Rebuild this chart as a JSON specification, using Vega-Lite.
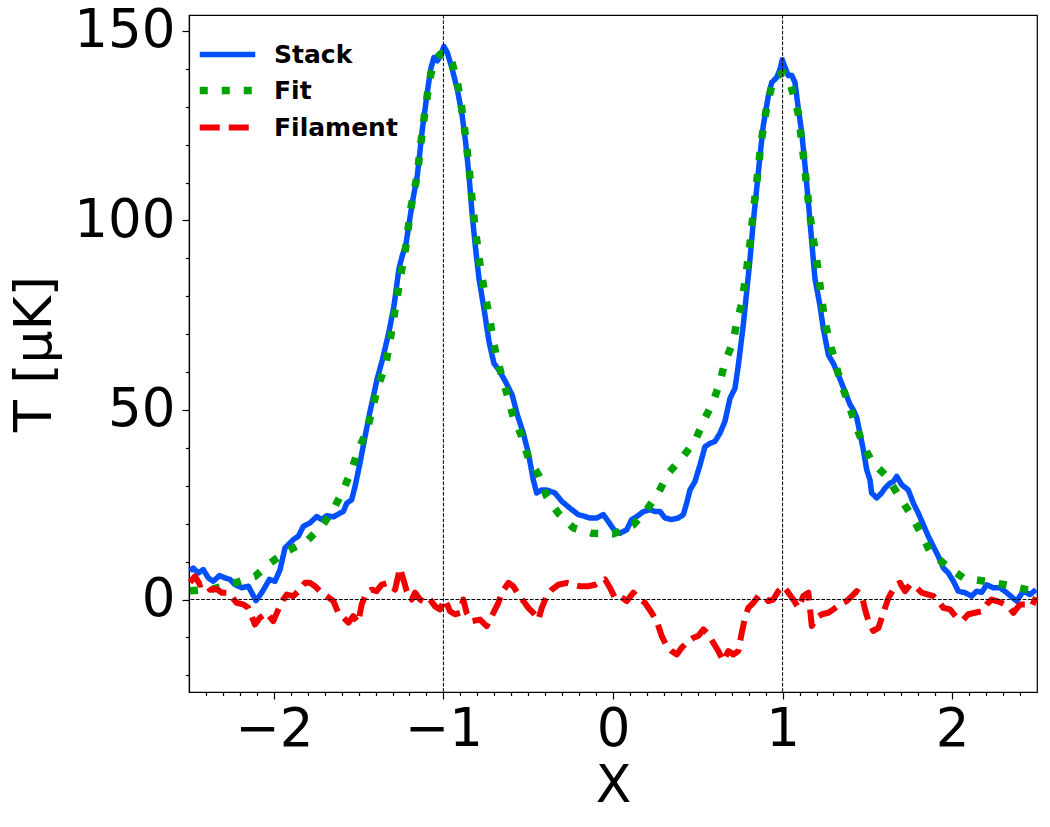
{
  "$schema": "https://vega.github.io/schema/vega-lite/v6.json",
  "width": 848,
  "height": 677,
  "autosize": {"type": "none"},
  "padding": {"left": 189, "top": 15, "right": 13, "bottom": 135},
  "background": "white",
  "config": {
    "view": {"stroke": "black", "strokeWidth": 1.2},
    "font": "DejaVu Sans",
    "axis": {"grid": false, "domainColor": "black", "tickColor": "black", "labelColor": "black", "titleColor": "black", "labelFont": "DejaVu Sans", "titleFont": "DejaVu Sans", "titleFontWeight": "normal", "domainWidth": 1.2, "tickWidth": 1.2}
  },
  "datasets": {
    "curves": [
      {"x": -2.494, "T": 7.5, "series": "Stack"},
      {"x": -2.475, "T": 8.3, "series": "Stack"},
      {"x": -2.445, "T": 7.0, "series": "Stack"},
      {"x": -2.416, "T": 7.9, "series": "Stack"},
      {"x": -2.386, "T": 5.7, "series": "Stack"},
      {"x": -2.357, "T": 4.8, "series": "Stack"},
      {"x": -2.321, "T": 6.3, "series": "Stack"},
      {"x": -2.288, "T": 5.7, "series": "Stack"},
      {"x": -2.258, "T": 5.3, "series": "Stack"},
      {"x": -2.229, "T": 3.9, "series": "Stack"},
      {"x": -2.189, "T": 3.1, "series": "Stack"},
      {"x": -2.150, "T": 3.5, "series": "Stack"},
      {"x": -2.105, "T": -0.3, "series": "Stack"},
      {"x": -2.071, "T": 1.8, "series": "Stack"},
      {"x": -2.026, "T": 5.3, "series": "Stack"},
      {"x": -1.993, "T": 4.8, "series": "Stack"},
      {"x": -1.963, "T": 7.9, "series": "Stack"},
      {"x": -1.934, "T": 13.6, "series": "Stack"},
      {"x": -1.885, "T": 15.8, "series": "Stack"},
      {"x": -1.855, "T": 16.7, "series": "Stack"},
      {"x": -1.826, "T": 19.3, "series": "Stack"},
      {"x": -1.787, "T": 20.2, "series": "Stack"},
      {"x": -1.747, "T": 21.9, "series": "Stack"},
      {"x": -1.718, "T": 21.1, "series": "Stack"},
      {"x": -1.688, "T": 22.1, "series": "Stack"},
      {"x": -1.649, "T": 21.8, "series": "Stack"},
      {"x": -1.610, "T": 22.8, "series": "Stack"},
      {"x": -1.590, "T": 23.2, "series": "Stack"},
      {"x": -1.570, "T": 25.4, "series": "Stack"},
      {"x": -1.541, "T": 26.3, "series": "Stack"},
      {"x": -1.521, "T": 29.8, "series": "Stack"},
      {"x": -1.492, "T": 36.0, "series": "Stack"},
      {"x": -1.462, "T": 43.0, "series": "Stack"},
      {"x": -1.436, "T": 48.9, "series": "Stack"},
      {"x": -1.390, "T": 58.3, "series": "Stack"},
      {"x": -1.360, "T": 63.2, "series": "Stack"},
      {"x": -1.321, "T": 70.6, "series": "Stack"},
      {"x": -1.291, "T": 77.6, "series": "Stack"},
      {"x": -1.262, "T": 87.3, "series": "Stack"},
      {"x": -1.242, "T": 90.8, "series": "Stack"},
      {"x": -1.222, "T": 93.4, "series": "Stack"},
      {"x": -1.183, "T": 104.8, "series": "Stack"},
      {"x": -1.154, "T": 111.8, "series": "Stack"},
      {"x": -1.124, "T": 124.1, "series": "Stack"},
      {"x": -1.095, "T": 133.8, "series": "Stack"},
      {"x": -1.075, "T": 139.9, "series": "Stack"},
      {"x": -1.056, "T": 143.0, "series": "Stack"},
      {"x": -1.036, "T": 142.1, "series": "Stack"},
      {"x": -1.016, "T": 143.4, "series": "Stack"},
      {"x": -0.997, "T": 145.9, "series": "Stack"},
      {"x": -0.977, "T": 144.3, "series": "Stack"},
      {"x": -0.948, "T": 139.9, "series": "Stack"},
      {"x": -0.918, "T": 134.6, "series": "Stack"},
      {"x": -0.889, "T": 127.6, "series": "Stack"},
      {"x": -0.869, "T": 120.6, "series": "Stack"},
      {"x": -0.849, "T": 111.8, "series": "Stack"},
      {"x": -0.830, "T": 101.3, "series": "Stack"},
      {"x": -0.810, "T": 92.5, "series": "Stack"},
      {"x": -0.790, "T": 84.6, "series": "Stack"},
      {"x": -0.761, "T": 76.8, "series": "Stack"},
      {"x": -0.731, "T": 68.0, "series": "Stack"},
      {"x": -0.702, "T": 62.3, "series": "Stack"},
      {"x": -0.672, "T": 60.5, "series": "Stack"},
      {"x": -0.633, "T": 57.4, "series": "Stack"},
      {"x": -0.594, "T": 53.9, "series": "Stack"},
      {"x": -0.564, "T": 48.7, "series": "Stack"},
      {"x": -0.529, "T": 43.9, "series": "Stack"},
      {"x": -0.499, "T": 38.6, "series": "Stack"},
      {"x": -0.470, "T": 31.6, "series": "Stack"},
      {"x": -0.450, "T": 28.1, "series": "Stack"},
      {"x": -0.420, "T": 28.9, "series": "Stack"},
      {"x": -0.391, "T": 28.9, "series": "Stack"},
      {"x": -0.342, "T": 28.1, "series": "Stack"},
      {"x": -0.302, "T": 25.9, "series": "Stack"},
      {"x": -0.254, "T": 24.1, "series": "Stack"},
      {"x": -0.205, "T": 22.4, "series": "Stack"},
      {"x": -0.165, "T": 21.9, "series": "Stack"},
      {"x": -0.136, "T": 21.5, "series": "Stack"},
      {"x": -0.096, "T": 21.5, "series": "Stack"},
      {"x": -0.057, "T": 22.4, "series": "Stack"},
      {"x": -0.028, "T": 20.6, "series": "Stack"},
      {"x": 0.012, "T": 18.0, "series": "Stack"},
      {"x": 0.041, "T": 17.5, "series": "Stack"},
      {"x": 0.081, "T": 18.4, "series": "Stack"},
      {"x": 0.110, "T": 21.1, "series": "Stack"},
      {"x": 0.140, "T": 21.9, "series": "Stack"},
      {"x": 0.179, "T": 23.2, "series": "Stack"},
      {"x": 0.218, "T": 23.7, "series": "Stack"},
      {"x": 0.248, "T": 23.2, "series": "Stack"},
      {"x": 0.277, "T": 23.2, "series": "Stack"},
      {"x": 0.307, "T": 21.5, "series": "Stack"},
      {"x": 0.346, "T": 21.1, "series": "Stack"},
      {"x": 0.385, "T": 21.5, "series": "Stack"},
      {"x": 0.415, "T": 22.4, "series": "Stack"},
      {"x": 0.434, "T": 25.4, "series": "Stack"},
      {"x": 0.454, "T": 28.9, "series": "Stack"},
      {"x": 0.483, "T": 31.1, "series": "Stack"},
      {"x": 0.513, "T": 35.5, "series": "Stack"},
      {"x": 0.542, "T": 40.3, "series": "Stack"},
      {"x": 0.572, "T": 41.2, "series": "Stack"},
      {"x": 0.601, "T": 41.7, "series": "Stack"},
      {"x": 0.631, "T": 43.9, "series": "Stack"},
      {"x": 0.660, "T": 47.0, "series": "Stack"},
      {"x": 0.690, "T": 53.1, "series": "Stack"},
      {"x": 0.719, "T": 55.7, "series": "Stack"},
      {"x": 0.739, "T": 61.8, "series": "Stack"},
      {"x": 0.768, "T": 72.4, "series": "Stack"},
      {"x": 0.788, "T": 81.1, "series": "Stack"},
      {"x": 0.808, "T": 89.9, "series": "Stack"},
      {"x": 0.827, "T": 99.6, "series": "Stack"},
      {"x": 0.847, "T": 108.3, "series": "Stack"},
      {"x": 0.867, "T": 117.1, "series": "Stack"},
      {"x": 0.886, "T": 125.0, "series": "Stack"},
      {"x": 0.916, "T": 132.9, "series": "Stack"},
      {"x": 0.936, "T": 136.4, "series": "Stack"},
      {"x": 0.965, "T": 137.7, "series": "Stack"},
      {"x": 0.985, "T": 139.9, "series": "Stack"},
      {"x": 0.998, "T": 142.4, "series": "Stack"},
      {"x": 1.014, "T": 140.4, "series": "Stack"},
      {"x": 1.034, "T": 138.2, "series": "Stack"},
      {"x": 1.054, "T": 138.3, "series": "Stack"},
      {"x": 1.073, "T": 136.4, "series": "Stack"},
      {"x": 1.093, "T": 129.4, "series": "Stack"},
      {"x": 1.113, "T": 123.2, "series": "Stack"},
      {"x": 1.132, "T": 114.5, "series": "Stack"},
      {"x": 1.152, "T": 104.8, "series": "Stack"},
      {"x": 1.172, "T": 94.3, "series": "Stack"},
      {"x": 1.191, "T": 84.6, "series": "Stack"},
      {"x": 1.220, "T": 77.6, "series": "Stack"},
      {"x": 1.240, "T": 71.5, "series": "Stack"},
      {"x": 1.270, "T": 64.5, "series": "Stack"},
      {"x": 1.299, "T": 62.3, "series": "Stack"},
      {"x": 1.329, "T": 59.2, "series": "Stack"},
      {"x": 1.368, "T": 54.8, "series": "Stack"},
      {"x": 1.397, "T": 51.5, "series": "Stack"},
      {"x": 1.417, "T": 50.0, "series": "Stack"},
      {"x": 1.437, "T": 48.0, "series": "Stack"},
      {"x": 1.456, "T": 43.9, "series": "Stack"},
      {"x": 1.476, "T": 39.5, "series": "Stack"},
      {"x": 1.496, "T": 34.2, "series": "Stack"},
      {"x": 1.515, "T": 31.6, "series": "Stack"},
      {"x": 1.525, "T": 28.1, "series": "Stack"},
      {"x": 1.555, "T": 26.8, "series": "Stack"},
      {"x": 1.584, "T": 28.1, "series": "Stack"},
      {"x": 1.604, "T": 29.4, "series": "Stack"},
      {"x": 1.633, "T": 30.7, "series": "Stack"},
      {"x": 1.653, "T": 31.1, "series": "Stack"},
      {"x": 1.673, "T": 32.5, "series": "Stack"},
      {"x": 1.702, "T": 30.3, "series": "Stack"},
      {"x": 1.741, "T": 28.9, "series": "Stack"},
      {"x": 1.771, "T": 25.4, "series": "Stack"},
      {"x": 1.800, "T": 22.8, "series": "Stack"},
      {"x": 1.830, "T": 19.7, "series": "Stack"},
      {"x": 1.859, "T": 16.7, "series": "Stack"},
      {"x": 1.889, "T": 14.0, "series": "Stack"},
      {"x": 1.918, "T": 11.4, "series": "Stack"},
      {"x": 1.948, "T": 8.3, "series": "Stack"},
      {"x": 1.977, "T": 7.0, "series": "Stack"},
      {"x": 2.007, "T": 4.8, "series": "Stack"},
      {"x": 2.036, "T": 2.2, "series": "Stack"},
      {"x": 2.075, "T": 1.8, "series": "Stack"},
      {"x": 2.115, "T": 0.9, "series": "Stack"},
      {"x": 2.144, "T": 2.2, "series": "Stack"},
      {"x": 2.174, "T": 1.9, "series": "Stack"},
      {"x": 2.203, "T": 3.9, "series": "Stack"},
      {"x": 2.242, "T": 3.1, "series": "Stack"},
      {"x": 2.282, "T": 3.1, "series": "Stack"},
      {"x": 2.321, "T": 1.8, "series": "Stack"},
      {"x": 2.380, "T": -0.4, "series": "Stack"},
      {"x": 2.419, "T": 2.2, "series": "Stack"},
      {"x": 2.459, "T": 1.3, "series": "Stack"},
      {"x": 2.494, "T": 2.6, "series": "Stack"},

      {"x": -2.494, "T": 2.3, "series": "Fit"},
      {"x": -2.357, "T": 2.8, "series": "Fit"},
      {"x": -2.229, "T": 4.4, "series": "Fit"},
      {"x": -2.111, "T": 6.1, "series": "Fit"},
      {"x": -2.022, "T": 9.6, "series": "Fit"},
      {"x": -1.924, "T": 12.7, "series": "Fit"},
      {"x": -1.806, "T": 15.4, "series": "Fit"},
      {"x": -1.718, "T": 19.3, "series": "Fit"},
      {"x": -1.649, "T": 23.7, "series": "Fit"},
      {"x": -1.590, "T": 28.9, "series": "Fit"},
      {"x": -1.541, "T": 34.2, "series": "Fit"},
      {"x": -1.502, "T": 39.5, "series": "Fit"},
      {"x": -1.453, "T": 44.3, "series": "Fit"},
      {"x": -1.420, "T": 50.0, "series": "Fit"},
      {"x": -1.390, "T": 55.7, "series": "Fit"},
      {"x": -1.340, "T": 62.0, "series": "Fit"},
      {"x": -1.301, "T": 71.9, "series": "Fit"},
      {"x": -1.281, "T": 77.6, "series": "Fit"},
      {"x": -1.242, "T": 88.0, "series": "Fit"},
      {"x": -1.222, "T": 93.0, "series": "Fit"},
      {"x": -1.193, "T": 103.0, "series": "Fit"},
      {"x": -1.154, "T": 112.0, "series": "Fit"},
      {"x": -1.134, "T": 120.0, "series": "Fit"},
      {"x": -1.114, "T": 127.0, "series": "Fit"},
      {"x": -1.095, "T": 133.0, "series": "Fit"},
      {"x": -1.075, "T": 138.5, "series": "Fit"},
      {"x": -1.045, "T": 142.5, "series": "Fit"},
      {"x": -1.016, "T": 144.0, "series": "Fit"},
      {"x": -0.997, "T": 144.3, "series": "Fit"},
      {"x": -0.977, "T": 144.0, "series": "Fit"},
      {"x": -0.948, "T": 141.5, "series": "Fit"},
      {"x": -0.918, "T": 136.5, "series": "Fit"},
      {"x": -0.898, "T": 131.6, "series": "Fit"},
      {"x": -0.869, "T": 122.0, "series": "Fit"},
      {"x": -0.849, "T": 114.0, "series": "Fit"},
      {"x": -0.830, "T": 105.0, "series": "Fit"},
      {"x": -0.810, "T": 97.0, "series": "Fit"},
      {"x": -0.790, "T": 90.0, "series": "Fit"},
      {"x": -0.761, "T": 82.0, "series": "Fit"},
      {"x": -0.731, "T": 75.0, "series": "Fit"},
      {"x": -0.712, "T": 70.0, "series": "Fit"},
      {"x": -0.692, "T": 65.0, "series": "Fit"},
      {"x": -0.653, "T": 58.5, "series": "Fit"},
      {"x": -0.623, "T": 54.0, "series": "Fit"},
      {"x": -0.588, "T": 48.2, "series": "Fit"},
      {"x": -0.538, "T": 43.0, "series": "Fit"},
      {"x": -0.499, "T": 37.3, "series": "Fit"},
      {"x": -0.440, "T": 32.9, "series": "Fit"},
      {"x": -0.391, "T": 27.2, "series": "Fit"},
      {"x": -0.323, "T": 22.8, "series": "Fit"},
      {"x": -0.234, "T": 18.9, "series": "Fit"},
      {"x": -0.126, "T": 17.5, "series": "Fit"},
      {"x": 0.002, "T": 17.3, "series": "Fit"},
      {"x": 0.120, "T": 19.7, "series": "Fit"},
      {"x": 0.199, "T": 23.7, "series": "Fit"},
      {"x": 0.267, "T": 28.1, "series": "Fit"},
      {"x": 0.326, "T": 33.3, "series": "Fit"},
      {"x": 0.405, "T": 37.3, "series": "Fit"},
      {"x": 0.483, "T": 41.7, "series": "Fit"},
      {"x": 0.532, "T": 46.9, "series": "Fit"},
      {"x": 0.591, "T": 52.2, "series": "Fit"},
      {"x": 0.631, "T": 57.4, "series": "Fit"},
      {"x": 0.660, "T": 62.7, "series": "Fit"},
      {"x": 0.709, "T": 68.0, "series": "Fit"},
      {"x": 0.729, "T": 73.0, "series": "Fit"},
      {"x": 0.759, "T": 78.0, "series": "Fit"},
      {"x": 0.788, "T": 87.0, "series": "Fit"},
      {"x": 0.808, "T": 94.0, "series": "Fit"},
      {"x": 0.827, "T": 102.0, "series": "Fit"},
      {"x": 0.847, "T": 110.0, "series": "Fit"},
      {"x": 0.867, "T": 118.0, "series": "Fit"},
      {"x": 0.886, "T": 124.5, "series": "Fit"},
      {"x": 0.906, "T": 129.8, "series": "Fit"},
      {"x": 0.936, "T": 135.5, "series": "Fit"},
      {"x": 0.965, "T": 138.0, "series": "Fit"},
      {"x": 1.004, "T": 139.0, "series": "Fit"},
      {"x": 1.034, "T": 137.5, "series": "Fit"},
      {"x": 1.054, "T": 134.6, "series": "Fit"},
      {"x": 1.073, "T": 132.0, "series": "Fit"},
      {"x": 1.093, "T": 128.0, "series": "Fit"},
      {"x": 1.118, "T": 119.0, "series": "Fit"},
      {"x": 1.142, "T": 109.0, "series": "Fit"},
      {"x": 1.162, "T": 101.0, "series": "Fit"},
      {"x": 1.181, "T": 95.0, "series": "Fit"},
      {"x": 1.201, "T": 89.5, "series": "Fit"},
      {"x": 1.230, "T": 79.5, "series": "Fit"},
      {"x": 1.250, "T": 73.0, "series": "Fit"},
      {"x": 1.289, "T": 66.0, "series": "Fit"},
      {"x": 1.319, "T": 61.0, "series": "Fit"},
      {"x": 1.348, "T": 56.6, "series": "Fit"},
      {"x": 1.388, "T": 51.8, "series": "Fit"},
      {"x": 1.427, "T": 46.5, "series": "Fit"},
      {"x": 1.476, "T": 40.8, "series": "Fit"},
      {"x": 1.525, "T": 36.4, "series": "Fit"},
      {"x": 1.613, "T": 32.5, "series": "Fit"},
      {"x": 1.682, "T": 27.6, "series": "Fit"},
      {"x": 1.751, "T": 22.8, "series": "Fit"},
      {"x": 1.810, "T": 18.0, "series": "Fit"},
      {"x": 1.869, "T": 12.7, "series": "Fit"},
      {"x": 1.968, "T": 8.8, "series": "Fit"},
      {"x": 2.066, "T": 5.7, "series": "Fit"},
      {"x": 2.193, "T": 4.8, "series": "Fit"},
      {"x": 2.311, "T": 3.9, "series": "Fit"},
      {"x": 2.439, "T": 2.6, "series": "Fit"},
      {"x": 2.494, "T": 2.2, "series": "Fit"},

      {"x": -2.494, "T": 4.5, "series": "Filament"},
      {"x": -2.465, "T": 6.1, "series": "Filament"},
      {"x": -2.435, "T": 3.9, "series": "Filament"},
      {"x": -2.406, "T": 4.4, "series": "Filament"},
      {"x": -2.376, "T": 2.6, "series": "Filament"},
      {"x": -2.337, "T": 2.8, "series": "Filament"},
      {"x": -2.308, "T": 1.8, "series": "Filament"},
      {"x": -2.268, "T": 1.8, "series": "Filament"},
      {"x": -2.219, "T": -0.9, "series": "Filament"},
      {"x": -2.180, "T": -1.3, "series": "Filament"},
      {"x": -2.150, "T": -2.2, "series": "Filament"},
      {"x": -2.111, "T": -6.6, "series": "Filament"},
      {"x": -2.082, "T": -4.8, "series": "Filament"},
      {"x": -2.042, "T": -3.5, "series": "Filament"},
      {"x": -2.003, "T": -5.7, "series": "Filament"},
      {"x": -1.973, "T": -2.6, "series": "Filament"},
      {"x": -1.944, "T": 0.0, "series": "Filament"},
      {"x": -1.924, "T": 1.3, "series": "Filament"},
      {"x": -1.885, "T": 0.9, "series": "Filament"},
      {"x": -1.855, "T": 2.2, "series": "Filament"},
      {"x": -1.816, "T": 4.4, "series": "Filament"},
      {"x": -1.787, "T": 4.4, "series": "Filament"},
      {"x": -1.757, "T": 3.5, "series": "Filament"},
      {"x": -1.728, "T": 2.2, "series": "Filament"},
      {"x": -1.688, "T": 0.9, "series": "Filament"},
      {"x": -1.649, "T": -0.4, "series": "Filament"},
      {"x": -1.620, "T": -3.5, "series": "Filament"},
      {"x": -1.590, "T": -4.8, "series": "Filament"},
      {"x": -1.560, "T": -6.1, "series": "Filament"},
      {"x": -1.531, "T": -4.4, "series": "Filament"},
      {"x": -1.502, "T": -6.1, "series": "Filament"},
      {"x": -1.482, "T": -1.3, "series": "Filament"},
      {"x": -1.453, "T": 1.8, "series": "Filament"},
      {"x": -1.423, "T": 2.6, "series": "Filament"},
      {"x": -1.394, "T": 2.2, "series": "Filament"},
      {"x": -1.364, "T": 3.9, "series": "Filament"},
      {"x": -1.325, "T": 4.4, "series": "Filament"},
      {"x": -1.285, "T": 2.6, "series": "Filament"},
      {"x": -1.256, "T": 8.3, "series": "Filament"},
      {"x": -1.236, "T": 5.3, "series": "Filament"},
      {"x": -1.216, "T": 2.2, "series": "Filament"},
      {"x": -1.187, "T": 0.0, "series": "Filament"},
      {"x": -1.167, "T": 1.8, "series": "Filament"},
      {"x": -1.138, "T": 0.0, "series": "Filament"},
      {"x": -1.098, "T": -0.9, "series": "Filament"},
      {"x": -1.079, "T": 0.0, "series": "Filament"},
      {"x": -1.049, "T": -1.8, "series": "Filament"},
      {"x": -1.020, "T": -2.6, "series": "Filament"},
      {"x": -0.991, "T": 0.0, "series": "Filament"},
      {"x": -0.961, "T": -3.1, "series": "Filament"},
      {"x": -0.932, "T": -3.9, "series": "Filament"},
      {"x": -0.902, "T": -3.5, "series": "Filament"},
      {"x": -0.883, "T": 0.0, "series": "Filament"},
      {"x": -0.863, "T": -3.5, "series": "Filament"},
      {"x": -0.833, "T": -5.7, "series": "Filament"},
      {"x": -0.784, "T": -5.3, "series": "Filament"},
      {"x": -0.745, "T": -7.0, "series": "Filament"},
      {"x": -0.715, "T": -4.4, "series": "Filament"},
      {"x": -0.676, "T": -0.9, "series": "Filament"},
      {"x": -0.656, "T": 1.8, "series": "Filament"},
      {"x": -0.617, "T": 4.4, "series": "Filament"},
      {"x": -0.588, "T": 3.5, "series": "Filament"},
      {"x": -0.558, "T": 1.3, "series": "Filament"},
      {"x": -0.529, "T": -0.4, "series": "Filament"},
      {"x": -0.499, "T": -2.2, "series": "Filament"},
      {"x": -0.470, "T": -3.5, "series": "Filament"},
      {"x": -0.440, "T": -5.3, "series": "Filament"},
      {"x": -0.420, "T": -2.2, "series": "Filament"},
      {"x": -0.391, "T": 0.9, "series": "Filament"},
      {"x": -0.361, "T": 2.6, "series": "Filament"},
      {"x": -0.322, "T": 3.9, "series": "Filament"},
      {"x": -0.273, "T": 4.4, "series": "Filament"},
      {"x": -0.234, "T": 3.9, "series": "Filament"},
      {"x": -0.195, "T": 3.5, "series": "Filament"},
      {"x": -0.146, "T": 3.5, "series": "Filament"},
      {"x": -0.106, "T": 3.9, "series": "Filament"},
      {"x": -0.067, "T": 4.8, "series": "Filament"},
      {"x": -0.047, "T": 5.3, "series": "Filament"},
      {"x": -0.018, "T": 3.1, "series": "Filament"},
      {"x": 0.012, "T": 0.4, "series": "Filament"},
      {"x": 0.041, "T": 0.9, "series": "Filament"},
      {"x": 0.081, "T": -0.4, "series": "Filament"},
      {"x": 0.120, "T": 1.8, "series": "Filament"},
      {"x": 0.149, "T": 0.4, "series": "Filament"},
      {"x": 0.189, "T": -0.9, "series": "Filament"},
      {"x": 0.228, "T": -3.5, "series": "Filament"},
      {"x": 0.258, "T": -5.7, "series": "Filament"},
      {"x": 0.287, "T": -9.6, "series": "Filament"},
      {"x": 0.317, "T": -12.3, "series": "Filament"},
      {"x": 0.346, "T": -13.6, "series": "Filament"},
      {"x": 0.376, "T": -14.5, "series": "Filament"},
      {"x": 0.405, "T": -12.7, "series": "Filament"},
      {"x": 0.444, "T": -11.0, "series": "Filament"},
      {"x": 0.474, "T": -10.1, "series": "Filament"},
      {"x": 0.503, "T": -9.6, "series": "Filament"},
      {"x": 0.533, "T": -7.9, "series": "Filament"},
      {"x": 0.562, "T": -9.2, "series": "Filament"},
      {"x": 0.591, "T": -11.4, "series": "Filament"},
      {"x": 0.621, "T": -13.6, "series": "Filament"},
      {"x": 0.650, "T": -16.2, "series": "Filament"},
      {"x": 0.680, "T": -13.6, "series": "Filament"},
      {"x": 0.709, "T": -14.5, "series": "Filament"},
      {"x": 0.739, "T": -13.6, "series": "Filament"},
      {"x": 0.759, "T": -8.8, "series": "Filament"},
      {"x": 0.778, "T": -4.8, "series": "Filament"},
      {"x": 0.798, "T": -2.2, "series": "Filament"},
      {"x": 0.827, "T": -0.9, "series": "Filament"},
      {"x": 0.857, "T": 0.9, "series": "Filament"},
      {"x": 0.886, "T": 0.9, "series": "Filament"},
      {"x": 0.916, "T": -0.4, "series": "Filament"},
      {"x": 0.945, "T": 0.0, "series": "Filament"},
      {"x": 0.975, "T": 2.2, "series": "Filament"},
      {"x": 1.004, "T": 3.5, "series": "Filament"},
      {"x": 1.034, "T": 1.8, "series": "Filament"},
      {"x": 1.063, "T": 0.0, "series": "Filament"},
      {"x": 1.093, "T": -2.2, "series": "Filament"},
      {"x": 1.122, "T": 0.9, "series": "Filament"},
      {"x": 1.152, "T": 1.8, "series": "Filament"},
      {"x": 1.172, "T": -7.0, "series": "Filament"},
      {"x": 1.201, "T": -4.8, "series": "Filament"},
      {"x": 1.231, "T": -3.9, "series": "Filament"},
      {"x": 1.270, "T": -3.5, "series": "Filament"},
      {"x": 1.299, "T": -2.6, "series": "Filament"},
      {"x": 1.338, "T": -1.3, "series": "Filament"},
      {"x": 1.378, "T": -0.4, "series": "Filament"},
      {"x": 1.417, "T": 1.3, "series": "Filament"},
      {"x": 1.437, "T": 2.2, "series": "Filament"},
      {"x": 1.466, "T": 1.3, "series": "Filament"},
      {"x": 1.486, "T": -2.6, "series": "Filament"},
      {"x": 1.506, "T": -5.7, "series": "Filament"},
      {"x": 1.535, "T": -8.3, "series": "Filament"},
      {"x": 1.565, "T": -7.5, "series": "Filament"},
      {"x": 1.594, "T": -3.5, "series": "Filament"},
      {"x": 1.624, "T": 0.4, "series": "Filament"},
      {"x": 1.663, "T": 3.5, "series": "Filament"},
      {"x": 1.692, "T": 4.4, "series": "Filament"},
      {"x": 1.722, "T": 2.2, "series": "Filament"},
      {"x": 1.751, "T": 3.9, "series": "Filament"},
      {"x": 1.790, "T": 3.1, "series": "Filament"},
      {"x": 1.820, "T": 1.8, "series": "Filament"},
      {"x": 1.859, "T": 1.3, "series": "Filament"},
      {"x": 1.889, "T": 0.9, "series": "Filament"},
      {"x": 1.918, "T": -0.4, "series": "Filament"},
      {"x": 1.948, "T": -2.2, "series": "Filament"},
      {"x": 1.987, "T": -2.6, "series": "Filament"},
      {"x": 2.026, "T": -4.8, "series": "Filament"},
      {"x": 2.066, "T": -5.3, "series": "Filament"},
      {"x": 2.095, "T": -3.9, "series": "Filament"},
      {"x": 2.135, "T": -3.5, "series": "Filament"},
      {"x": 2.174, "T": -3.1, "series": "Filament"},
      {"x": 2.203, "T": -1.3, "series": "Filament"},
      {"x": 2.233, "T": 0.0, "series": "Filament"},
      {"x": 2.262, "T": -0.4, "series": "Filament"},
      {"x": 2.292, "T": -0.9, "series": "Filament"},
      {"x": 2.331, "T": -1.8, "series": "Filament"},
      {"x": 2.361, "T": -3.5, "series": "Filament"},
      {"x": 2.400, "T": -1.3, "series": "Filament"},
      {"x": 2.439, "T": -1.3, "series": "Filament"},
      {"x": 2.469, "T": -1.8, "series": "Filament"},
      {"x": 2.494, "T": 0.6, "series": "Filament"}
    ],
    "vlines": [{"xv": -1}, {"xv": 1}],
    "hlines": [{"yv": 0}]
  },
  "resolve": {"axis": {"x": "independent", "y": "independent"}},
  "layer": [
    {
      "data": {"name": "curves"},
      "mark": {"type": "line", "strokeCap": "butt", "strokeJoin": "round"},
      "encoding": {
        "x": {"field": "x", "type": "quantitative", "scale": {"domain": [-2.5, 2.5], "nice": false, "zero": false},
              "axis": {"orient": "bottom", "values": [-2, -1, 0, 1, 2], "title": "X", "labelFontSize": 53, "titleFontSize": 52, "tickSize": 7, "labelPadding": 4, "titlePadding": 4, "format": "d"}},
        "y": {"field": "T", "type": "quantitative", "scale": {"domain": [-24.4, 154.2], "nice": false, "zero": false},
              "axis": {"orient": "left", "values": [0, 50, 100, 150], "title": "T [μK]", "labelFontSize": 53, "titleFontSize": 52, "tickSize": 7, "labelPadding": 7, "titlePadding": 12, "format": "d"}},
        "color": {"field": "series", "type": "nominal", "scale": {"domain": ["Stack", "Fit", "Filament"], "range": ["#0050ff", "#00a200", "#f00000"]},
                  "legend": {"title": null, "orient": "none", "legendX": 16, "legendY": 18, "labelFont": "DejaVu Sans", "labelFontSize": 25, "labelFontWeight": "bold", "labelColor": "black", "symbolType": "M-1.5,0H1.5", "symbolSize": 1369, "symbolStrokeWidth": 5.5, "labelOffset": 24, "rowPadding": 0}},
        "strokeDash": {"field": "series", "type": "nominal", "scale": {"domain": ["Stack", "Fit", "Filament"], "range": [[1, 0], [8, 14], [20, 9]]}},
        "strokeWidth": {"field": "series", "type": "nominal", "scale": {"type": "ordinal", "domain": ["Stack", "Fit", "Filament"], "range": [5.5, 7.5, 6]}, "legend": null}
      }
    },
    {
      "data": {"name": "vlines"},
      "mark": {"type": "rule", "color": "black", "strokeWidth": 1, "strokeDash": [3.7, 1.6]},
      "encoding": {
        "x": {"field": "xv", "type": "quantitative",
              "axis": {"orient": "bottom", "values": [-2.4, -2.3, -2.2, -2.1, -1.9, -1.8, -1.7, -1.6, -1.5, -1.4, -1.3, -1.2, -1.1, -0.9, -0.8, -0.7, -0.6, -0.5, -0.4, -0.3, -0.2, -0.1, 0.1, 0.2, 0.3, 0.4, 0.5, 0.6, 0.7, 0.8, 0.9, 1.1, 1.2, 1.3, 1.4, 1.5, 1.6, 1.7, 1.8, 1.9, 2.1, 2.2, 2.3, 2.4], "labels": false, "domain": false, "tickSize": 3.5, "title": null}}
      }
    },
    {
      "data": {"name": "hlines"},
      "mark": {"type": "rule", "color": "black", "strokeWidth": 1, "strokeDash": [3.7, 1.6]},
      "encoding": {
        "y": {"field": "yv", "type": "quantitative",
              "axis": {"orient": "left", "values": [-20, -10, 10, 20, 30, 40, 60, 70, 80, 90, 110, 120, 130, 140], "labels": false, "domain": false, "tickSize": 3.5, "title": null}}
      }
    }
  ]
}
